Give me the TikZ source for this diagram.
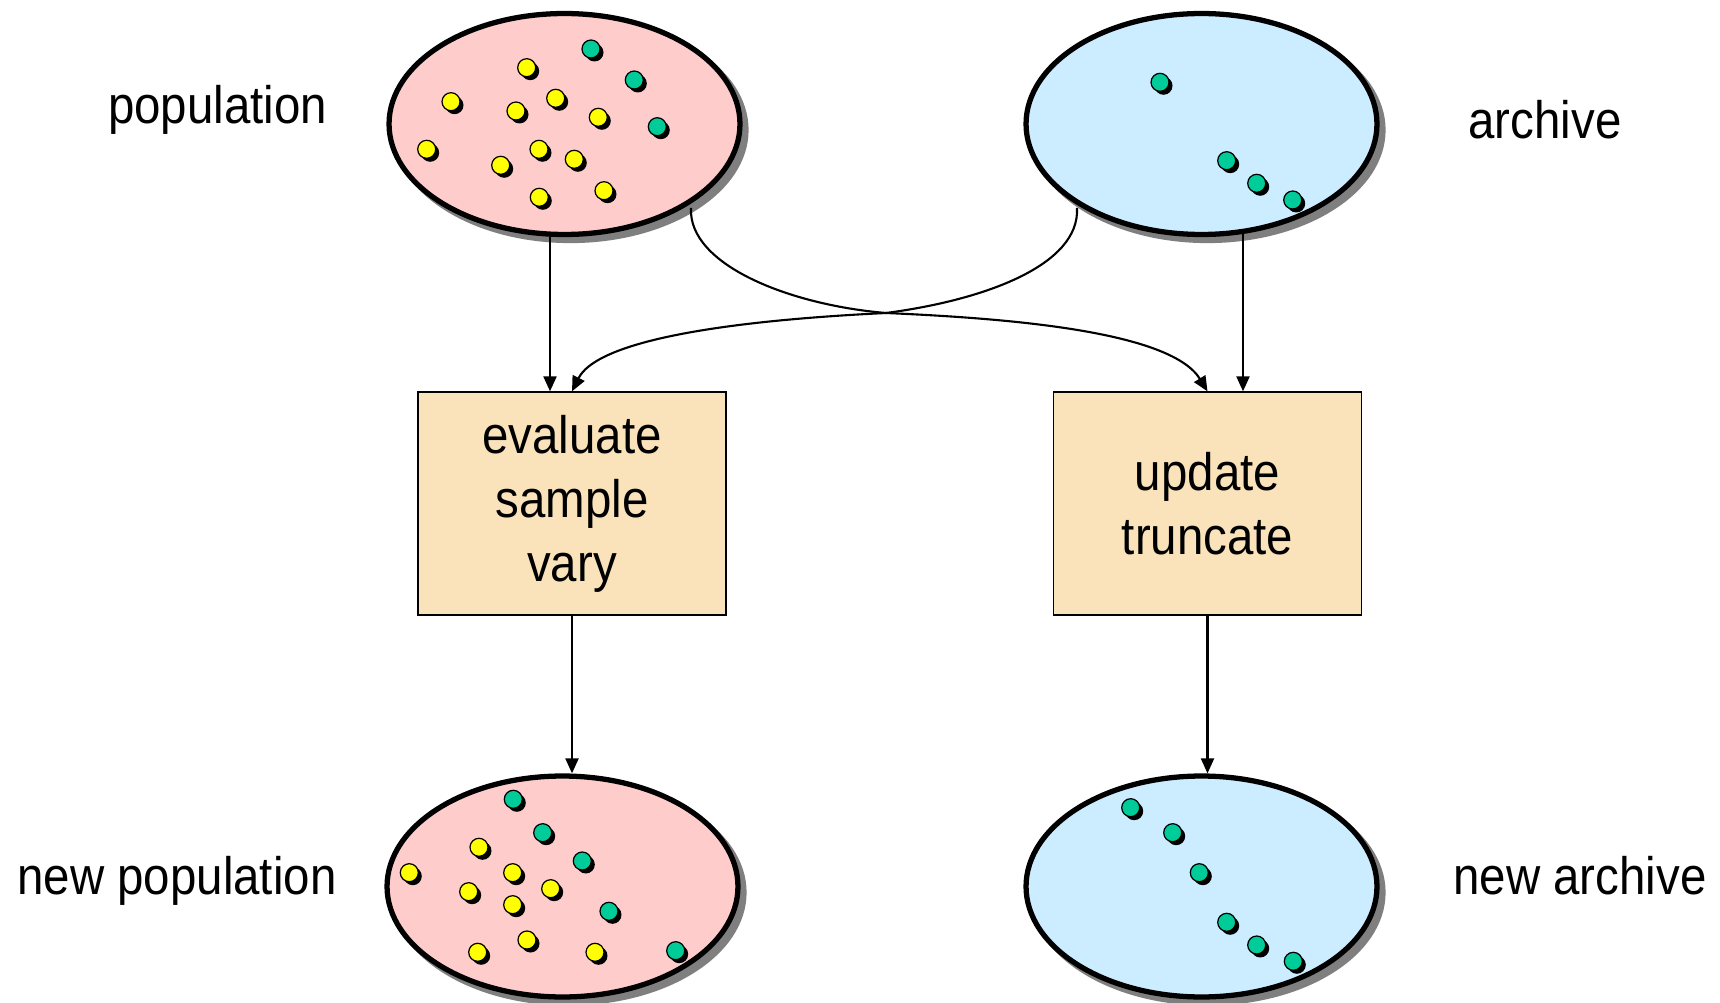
\documentclass[tikz,border=0pt]{standalone}
\usepackage{fontspec}
\setmainfont{Liberation Sans}[FakeStretch=0.9]
\usetikzlibrary{shapes.geometric,arrows.meta}
\definecolor{popfill}{HTML}{FFCCCC}
\definecolor{archfill}{HTML}{CCECFF}
\definecolor{boxfill}{HTML}{FAE3BB}
\definecolor{indyellow}{HTML}{FFFF00}
\definecolor{indgreen}{HTML}{00CC99}
\definecolor{shade}{HTML}{7F7F7F}

\tikzset{
  setbase/.style={ellipse, inner sep=0pt, line width=3pt,
    minimum width=7.02cm, minimum height=4.42cm},
  setshadow/.style={setbase, fill=shade, draw=shade},
  popset/.style={setbase, fill=popfill, draw=black},
  archset/.style={setbase, fill=archfill, draw=black},
  procbox/.style={rectangle, fill=boxfill, draw=black, line width=0.75pt,
    minimum width=6.16cm, minimum height=4.46cm, inner sep=0pt,
    align=center, font=\fontsize{30pt}{36.4pt}\selectfont},
  lbl/.style={anchor=base, inner sep=0pt, font=\fontsize{30pt}{34.7pt}\selectfont},
  arr/.style={line width=1.2pt, -{Triangle[length=0.3cm,width=0.26cm]}},
  ydot/.pic={
    \fill[black] (0.07cm,-0.07cm) circle[radius=0.18cm];
    \filldraw[fill=indyellow, draw=black, line width=0.7pt] (0,0) circle[radius=0.18cm];
  },
  gdot/.pic={
    \fill[black] (0.07cm,-0.07cm) circle[radius=0.18cm];
    \filldraw[fill=indgreen, draw=black, line width=0.7pt] (0,0) circle[radius=0.18cm];
  }
}

\begin{document}
\begin{tikzpicture}[x=0.02cm, y=-0.02cm]
\useasboundingbox[fill=white] (0,0) rectangle (1720,1003);

% processing steps
\node[procbox] (eval) at (572,503.5) {evaluate\\sample\\vary};
\node[procbox] (upd) at (1207.5,503.5) {update\\truncate};

% shadows behind the four sets
\node[setshadow] (popsh)   at (570.5,130) {};
\node[setshadow] (archsh)  at (1207.5,130) {};
\node[setshadow] (npopsh)  at (568.5,892.5) {};
\node[setshadow] (narchsh) at (1207.5,892.5) {};

% connectors (drawn before the sets so the sets cover their ends)
\coordinate (cross) at (886,313);
\coordinate (popstart) at (691,208);
\coordinate (archstart) at (1077,208);
\draw[arr] ([xshift=-0.44cm]eval.north |- 0,230) -- ([xshift=-0.44cm]eval.north);
\draw[arr] ([xshift=0.71cm]upd.north |- 0,230) -- ([xshift=0.71cm]upd.north);
\draw[arr] (popstart) .. controls (688,265) and (790,305) .. (cross)
  .. controls (1000,318) and (1170,330) .. (upd.north);
\draw[arr] (archstart) .. controls (1080,265) and (985,300) .. (cross)
  .. controls (700,322) and (595,345) .. (eval.north);

% population sets
\node[popset] (pop) at (564.5,124) {};
\node[archset] (arch) at (1201.5,124) {};
\node[popset] (npop) at (562.5,886.5) {};
\node[archset] (narch) at (1201.5,886.5) {};

\draw[arr] (eval.south) -- (eval.south |- npop.north);
\draw[arr] (upd.south) -- (upd.south |- narch.north);

% individuals in the population
\foreach \p in {(526.7,67.7),(451,101.7),(555.7,98.3),(516,111),(598.3,117.3),
  (426.7,149.3),(539,149.3),(574.3,159.3),(500.7,165.3),(539.3,197.3),(604,190.7)}
  \pic at \p {ydot};
\foreach \p in {(591,49),(634.3,80),(657.3,126.7)}
  \pic at \p {gdot};

% archive members
\foreach \p in {(1160,82.3),(1226.7,160.7),(1256.7,183.3),(1292.7,200)}
  \pic at \p {gdot};

% new population
\foreach \p in {(479,847.3),(409.3,872.7),(512.7,872.7),(468.7,891.7),(550.7,888.7),
  (512.7,904.7),(527,940),(477.7,952.3),(595,952.3)}
  \pic at \p {ydot};
\foreach \p in {(513.3,799.3),(542.7,832.7),(582.3,861),(609,911.3),(675.7,950.7)}
  \pic at \p {gdot};

% new archive
\foreach \p in {(1130.7,807.7),(1172.7,832.7),(1199.3,872.7),(1226.7,922.3),
  (1256.7,945),(1293.3,961.3)}
  \pic at \p {gdot};

% labels
\node[lbl] (poplbl) at (217.5,124) {population};
\node[lbl] (archlbl) at (1545,139) {archive};
\node[lbl] (npoplbl) at (177,894) {new population};
\node[lbl] (narchlbl) at (1580,894) {new archive};
\end{tikzpicture}
\end{document}
